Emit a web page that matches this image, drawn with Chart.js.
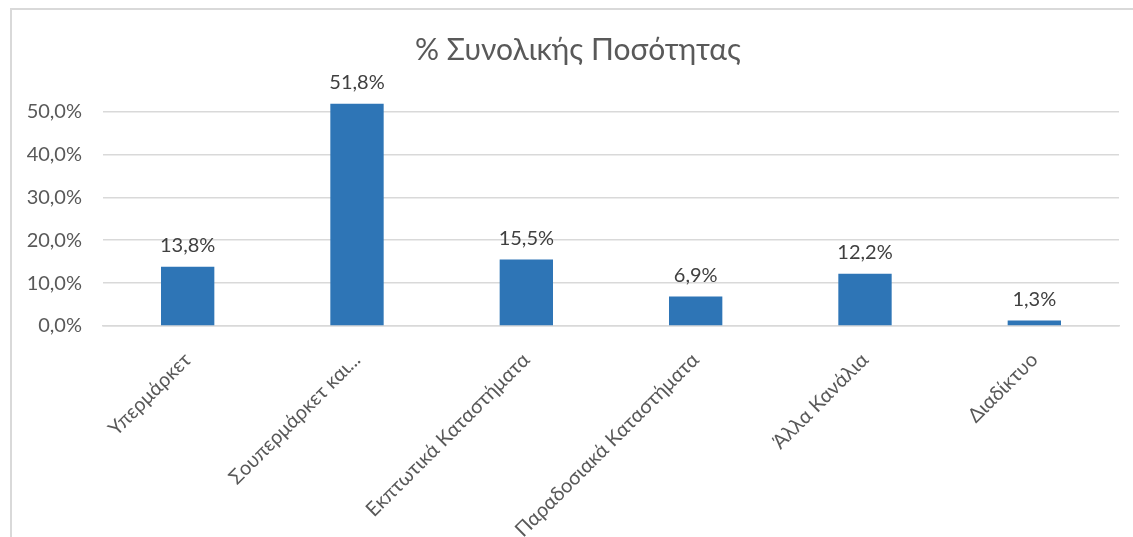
<!DOCTYPE html>
<html>
<head>
<meta charset="utf-8">
<script src="https://cdn.jsdelivr.net/npm/chart.js@4.4.1/dist/chart.umd.min.js"></script>
<style>
    body { margin: 0; background: #fff; overflow: hidden; }
    #frame { position: absolute; left: 10px; top: 8px; width: 1200px; height: 600px;
             border-left: 2px solid #d9d9d9; border-top: 2px solid #d9d9d9; }
    #barChart { position: absolute; left: 0; top: 0; }
</style>
</head>
<body>
<div id="frame"></div>
<canvas id="barChart" width="1133" height="537"></canvas>
<script>
// Datos del gráfico
const categorias = ["Υπερμάρκετ", "Σουπερμάρκετ και...", "Εκπτωτικά Καταστήματα", "Παραδοσιακά Καταστήματα", "Άλλα Κανάλια", "Διαδίκτυο"];
const porcentajes = [13.8, 51.8, 15.5, 6.9, 12.2, 1.3];
const ticksY = [0, 10, 20, 30, 40, 50];
const titulo = "% Συνολικής Ποσότητας";

const fmt = (v) => v.toFixed(1).replace(".", ",") + "%";

// Etiquetas de valor encima de cada barra
const etiquetasValor = {
    id: "etiquetasValor",
    afterLayout(chart) {
        // desplazar un poco el título a la derecha, como en el original
        if (chart.titleBlock) chart.titleBlock.left += 37;
    },
    afterDatasetsDraw(chart) {
        const ctx = chart.ctx;
        const meta = chart.getDatasetMeta(0);
        ctx.save();
        ctx.font = "20px Lato";
        ctx.fillStyle = "#404040";
        ctx.textAlign = "center";
        ctx.textBaseline = "middle";
        meta.data.forEach((bar, i) => {
            ctx.fillText(fmt(porcentajes[i]), bar.x, bar.y - 21);
        });
        ctx.restore();
    },
};

new Chart(document.getElementById("barChart").getContext("2d"), {
    type: "bar",
    data: {
        labels: categorias,
        datasets: [
            {
                label: titulo,
                data: porcentajes,
                backgroundColor: "#2e75b6",
                barPercentage: 0.315,
                categoryPercentage: 1,
            },
        ],
    },
    options: {
        responsive: false,
        animation: false,
        layout: { padding: { left: 0, right: 14, top: 0, bottom: 0 } },
        plugins: {
            legend: { display: false },
            tooltip: { enabled: false },
            title: {
                display: true,
                text: titulo,
                color: "#595959",
                font: { family: "Lato", size: 30, weight: "normal" },
                padding: { top: 32, bottom: 22 },
            },
        },
        scales: {
            x: {
                grid: { display: false },
                border: { color: "#d9d9d9", width: 1.5 },
                ticks: {
                    color: "#595959",
                    font: { family: "Lato", size: 20 },
                    minRotation: 45,
                    maxRotation: 45,
                    autoSkip: false,
                    padding: 14,
                },
                afterFit(scale) { scale.height = 211; },
            },
            y: {
                min: 0,
                max: 55,
                grid: { color: "#d9d9d9", lineWidth: 1.5, drawTicks: false },
                border: { display: false },
                ticks: {
                    color: "#595959",
                    font: { family: "Lato", size: 20 },
                    padding: 21,
                    callback: (v) => fmt(v),
                },
                afterBuildTicks(axis) {
                    axis.ticks = ticksY.map((v) => ({ value: v }));
                },
                afterFit(scale) { scale.width = 103; },
            },
        },
    },
    plugins: [etiquetasValor],
});
</script>
</body>
</html>
